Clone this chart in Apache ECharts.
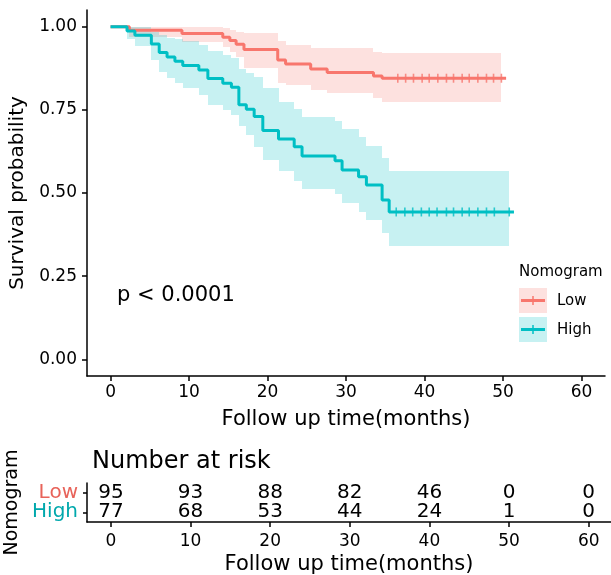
<!DOCTYPE html>
<html>
<head>
<meta charset="utf-8">
<script src="https://cdn.jsdelivr.net/npm/echarts@6/dist/echarts.min.js"></script>
<style>
html, body { margin: 0; padding: 0; background: #fff; }
#chart { width: 611px; height: 575px; }
</style>
</head>
<body>
<div id="chart"></div>
<script>
// Kaplan-Meier steps (months, survival, 95% band)
var lowTime   = [0, 2.4, 9.1, 14.3, 15.2, 16.0, 17.0, 21.3, 22.3, 25.5, 27.6, 33.5, 34.6];
var lowSurv   = [1, 0.989, 0.979, 0.968, 0.958, 0.947, 0.931, 0.900, 0.888, 0.873, 0.862, 0.852, 0.845];
var lowUpper  = [1, 1.000, 0.999, 0.995, 0.990, 0.985, 0.980, 0.956, 0.946, 0.935, 0.935, 0.925, 0.920];
var lowLower  = [1, 0.968, 0.955, 0.940, 0.925, 0.910, 0.875, 0.830, 0.825, 0.810, 0.800, 0.785, 0.772];
var lowCensor = [36.6, 37.6, 38.6, 39.7, 40.6, 41.7, 42.8, 43.7, 44.8, 45.7, 46.8, 47.9, 48.8, 49.8];
var lowBandEnd = 49.8;
var lowEnd = 50.4;

var highTime   = [0, 2.1, 3.1, 5.2, 6.2, 7.2, 8.2, 9.2, 11.25, 12.4, 14.3, 15.4, 16.35, 17.3, 18.3, 19.4, 21.4, 23.4, 24.4, 28.6, 29.5, 31.6, 32.6, 34.6, 35.5];
var highSurv   = [1, 0.987, 0.974, 0.948, 0.922, 0.909, 0.896, 0.883, 0.870, 0.844, 0.830, 0.818, 0.765, 0.752, 0.730, 0.688, 0.662, 0.639, 0.611, 0.597, 0.569, 0.549, 0.524, 0.479, 0.443];
var highUpper  = [1, 1.000, 0.998, 0.985, 0.975, 0.966, 0.962, 0.956, 0.945, 0.926, 0.915, 0.905, 0.872, 0.862, 0.850, 0.815, 0.775, 0.752, 0.728, 0.715, 0.692, 0.668, 0.641, 0.604, 0.566];
var highLower  = [1, 0.962, 0.941, 0.900, 0.865, 0.845, 0.830, 0.815, 0.795, 0.765, 0.750, 0.735, 0.700, 0.675, 0.639, 0.600, 0.566, 0.537, 0.511, 0.496, 0.469, 0.444, 0.419, 0.381, 0.341];
var highCensor = [36.4, 37.5, 38.5, 39.6, 40.6, 41.6, 42.8, 43.7, 44.8, 45.7, 46.8, 47.9, 48.9, 50.8];
var highBandEnd = 50.8;
var highEnd = 51.4;

// number at risk table
var riskTimes = [0, 10, 20, 30, 40, 50, 60];
var riskLow   = [95, 93, 88, 82, 46, 0, 0];
var riskHigh  = [77, 68, 53, 44, 24, 1, 0];
var riskGroups = ['High', 'Low'];

var xTicks = [0, 10, 20, 30, 40, 50, 60];
var yTicks = [0, 0.25, 0.5, 0.75, 1];

var RED = '#F8766D', TEAL = '#00BFC4';
var RED_BAND = 'rgba(248,118,109,0.22)', TEAL_BAND = 'rgba(0,191,196,0.22)';
var FONT = 'DejaVu Sans';

function stepPairs(time, surv, end) {
    var out = [];
    for (var i = 0; i < time.length; i++) out.push([time[i], surv[i]]);
    out.push([end, surv[surv.length - 1]]);
    return out;
}

function bandItems(time, upper, lower, end) {
    var out = [];
    for (var i = 1; i < time.length; i++) {
        var t1 = i + 1 < time.length ? time[i + 1] : end;
        out.push([time[i], t1, lower[i], upper[i]]);
    }
    return out;
}

function survAt(time, surv, t) {
    var s = surv[0];
    for (var i = 0; i < time.length; i++) if (time[i] <= t) s = surv[i];
    return s;
}

function censorPoints(cens, time, surv) {
    return cens.map(function (c) { return [c, survAt(time, surv, c)]; });
}

function riskItems(counts, group) {
    return riskTimes.map(function (t, i) { return [t, group, counts[i]]; });
}

function renderBand(color) {
    return function (params, api) {
        var p0 = api.coord([api.value(0), api.value(3)]);
        var p1 = api.coord([api.value(1), api.value(2)]);
        var x0 = Math.round(p0[0]), x1 = Math.round(p1[0]);
        var y0 = Math.round(p0[1]), y1 = Math.round(p1[1]);
        return {
            type: 'rect',
            shape: { x: x0, y: y0, width: x1 - x0, height: y1 - y0 },
            style: { fill: color }
        };
    };
}

function renderRisk(params, api) {
    var p = api.coord([api.value(0), api.value(1)]);
    return {
        type: 'text',
        x: p[0], y: p[1],
        style: {
            text: String(api.value(2)), fill: '#000', fontSize: 20, fontFamily: FONT,
            align: 'center', verticalAlign: 'middle'
        }
    };
}

function lineStyle() { return { color: '#000', width: 1.5 }; }

function timeAxis(gridIndex, max, margin, gap) {
    return {
        gridIndex: gridIndex, type: 'value', min: -3, max: max, position: 'bottom',
        axisLine: { show: true, onZero: false, lineStyle: lineStyle() },
        axisTick: { show: true, customValues: xTicks, length: 5, lineStyle: lineStyle() },
        axisLabel: { show: true, customValues: xTicks, fontSize: 17, color: '#000', margin: margin, fontFamily: FONT },
        splitLine: { show: false },
        name: 'Follow up time(months)', nameLocation: 'middle', nameGap: gap,
        nameTextStyle: { fontSize: 21, color: '#000', fontFamily: FONT }
    };
}

var chart = echarts.init(document.getElementById('chart'));
var option = {
    animation: false,
    backgroundColor: '#fff',
    textStyle: { fontFamily: FONT, color: '#000' },
    title: {
        text: 'Number at risk', left: 87, top: 445,
        textStyle: { fontSize: 24, fontWeight: 'normal', color: '#000', fontFamily: FONT }
    },
    grid: [
        { left: 87, top: 10, width: 518, height: 366, containLabel: false, outerBoundsMode: 'none' },
        { left: 87, top: 483, right: 0, height: 39, containLabel: false, outerBoundsMode: 'none' }
    ],
    xAxis: [
        timeAxis(0, 63, 8, 33),
        timeAxis(1, 62.8, 11, 32)
    ],
    yAxis: [
        {
            gridIndex: 0, type: 'value', min: -0.05, max: 1.05,
            axisLine: { show: true, onZero: false, lineStyle: lineStyle() },
            axisTick: { show: true, customValues: yTicks, length: 5, lineStyle: lineStyle() },
            axisLabel: {
                customValues: yTicks, fontSize: 17, color: '#000', margin: 10,
                formatter: function (v) { return v.toFixed(2); }
            },
            splitLine: { show: false },
            name: 'Survival probability', nameLocation: 'middle', nameGap: 58,
            nameTextStyle: { fontSize: 20, color: '#000' }
        },
        {
            gridIndex: 1, type: 'category', data: riskGroups,
            axisLine: { show: true, onZero: false, lineStyle: lineStyle() },
            axisTick: { show: true, alignWithLabel: true, interval: 0, length: 4, lineStyle: lineStyle() },
            axisLabel: {
                fontSize: 20, margin: 9, interval: 0, hideOverlap: false,
                color: function (v) { return v === 'Low' ? '#E8635A' : '#00A8AC'; }
            },
            splitLine: { show: false },
            name: 'Nomogram', nameLocation: 'middle', nameGap: 59,
            nameTextStyle: { fontSize: 19, color: '#000' }
        }
    ],
    graphic: [
        { type: 'text', x: 117, y: 296, style: { text: 'p < 0.0001', fontSize: 21, fontFamily: FONT, fill: '#000', verticalAlign: 'middle' } },
        { type: 'text', x: 519, y: 272, style: { text: 'Nomogram', fontSize: 15, fontFamily: FONT, fill: '#000', verticalAlign: 'middle' } },
        { type: 'rect', shape: { x: 519, y: 288, width: 28, height: 25 }, style: { fill: RED_BAND } },
        { type: 'line', shape: { x1: 521, y1: 300.5, x2: 545, y2: 300.5 }, style: { stroke: RED, lineWidth: 3 } },
        { type: 'line', shape: { x1: 533, y1: 296, x2: 533, y2: 305 }, style: { stroke: RED, lineWidth: 1.5 } },
        { type: 'text', x: 557, y: 301, style: { text: 'Low', fontSize: 15, fontFamily: FONT, fill: '#000', verticalAlign: 'middle' } },
        { type: 'rect', shape: { x: 519, y: 317, width: 28, height: 25 }, style: { fill: TEAL_BAND } },
        { type: 'line', shape: { x1: 521, y1: 329.5, x2: 545, y2: 329.5 }, style: { stroke: TEAL, lineWidth: 3 } },
        { type: 'line', shape: { x1: 533, y1: 325, x2: 533, y2: 334 }, style: { stroke: TEAL, lineWidth: 1.5 } },
        { type: 'text', x: 557, y: 330, style: { text: 'High', fontSize: 15, fontFamily: FONT, fill: '#000', verticalAlign: 'middle' } }
    ],
    series: [
        {
            type: 'custom', name: 'Low band', xAxisIndex: 0, yAxisIndex: 0, z: 1,
            renderItem: renderBand(RED_BAND), encode: { x: [0, 1], y: [2, 3] },
            data: bandItems(lowTime, lowUpper, lowLower, lowBandEnd)
        },
        {
            type: 'custom', name: 'High band', xAxisIndex: 0, yAxisIndex: 0, z: 1,
            renderItem: renderBand(TEAL_BAND), encode: { x: [0, 1], y: [2, 3] },
            data: bandItems(highTime, highUpper, highLower, highBandEnd)
        },
        {
            type: 'line', name: 'Low', step: 'end', showSymbol: false, z: 3,
            lineStyle: { color: RED, width: 3 }, itemStyle: { color: RED },
            data: stepPairs(lowTime, lowSurv, lowEnd)
        },
        {
            type: 'line', name: 'High', step: 'end', showSymbol: false, z: 3,
            lineStyle: { color: TEAL, width: 3 }, itemStyle: { color: TEAL },
            data: stepPairs(highTime, highSurv, highEnd)
        },
        {
            type: 'scatter', name: 'Low censored', symbol: 'rect', symbolSize: [1.6, 9], z: 4,
            itemStyle: { color: RED }, data: censorPoints(lowCensor, lowTime, lowSurv)
        },
        {
            type: 'scatter', name: 'High censored', symbol: 'rect', symbolSize: [1.6, 9], z: 4,
            itemStyle: { color: TEAL }, data: censorPoints(highCensor, highTime, highSurv)
        },
        {
            type: 'custom', name: 'Risk Low', xAxisIndex: 1, yAxisIndex: 1,
            renderItem: renderRisk, encode: { x: 0, y: 1 }, data: riskItems(riskLow, 'Low')
        },
        {
            type: 'custom', name: 'Risk High', xAxisIndex: 1, yAxisIndex: 1,
            renderItem: renderRisk, encode: { x: 0, y: 1 }, data: riskItems(riskHigh, 'High')
        }
    ]
};
chart.setOption(option);
</script>
</body>
</html>
